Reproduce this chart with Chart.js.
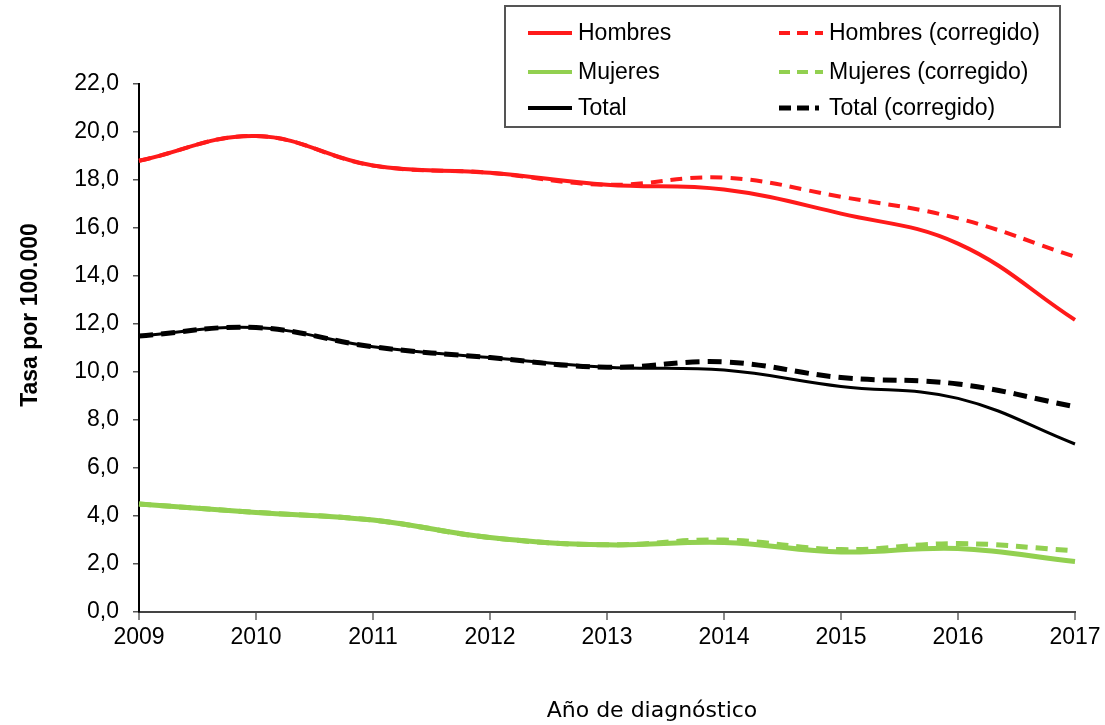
<!DOCTYPE html>
<html>
<head>
<meta charset="utf-8">
<script src="https://cdn.jsdelivr.net/npm/chart.js@4"></script>
<style>
  html, body { margin: 0; padding: 0; background: #fff; }
  #wrap { width: 1105px; height: 725px; position: relative; }
</style>
</head>
<body>
<div id="wrap"><canvas id="tasaChart" width="1105" height="725"></canvas></div>
<script>
// datos
const years = ['2009', '2010', '2011', '2012', '2013', '2014', '2015', '2016', '2017'];
const hombres = [18.8, 19.83, 18.6, 18.3, 17.8, 17.6, 16.6, 15.35, 12.17];
const hombresCorr = [18.8, 19.83, 18.6, 18.3, 17.8, 18.1, 17.3, 16.4, 14.8];
const mujeres = [4.5, 4.15, 3.83, 3.1, 2.8, 2.9, 2.5, 2.65, 2.1];
const mujeresCorr = [4.5, 4.15, 3.83, 3.1, 2.8, 3.0, 2.6, 2.85, 2.55];
const total = [11.5, 11.85, 11.05, 10.6, 10.2, 10.08, 9.4, 8.9, 7.0];
const totalCorr = [11.5, 11.85, 11.05, 10.6, 10.2, 10.42, 9.77, 9.5, 8.55];
const yTicks = [0, 2, 4, 6, 8, 10, 12, 14, 16, 18, 20, 22];

const ROJO = '#ff1a1a';
const VERDE = '#92d050';
const FUENTE = '"Liberation Sans", Arial, sans-serif';

// leyenda en dos columnas con recuadro
const legendBox = {
  id: 'legendBox',
  afterDraw(chart) {
    const c = chart.ctx;
    c.save();
    c.strokeStyle = '#555';
    c.lineWidth = 2;
    c.strokeRect(505, 6, 555, 121);
    const items = [
      { i: 0, x: 528, y: 33 }, { i: 1, x: 779, y: 33 },
      { i: 2, x: 528, y: 72 }, { i: 3, x: 779, y: 72 },
      { i: 4, x: 528, y: 108 }, { i: 5, x: 779, y: 108 }
    ];
    c.font = '23px ' + FUENTE;
    c.textBaseline = 'middle';
    items.forEach(it => {
      const ds = chart.data.datasets[it.i];
      c.beginPath();
      c.strokeStyle = ds.borderColor;
      c.lineWidth = it.i === 5 ? 5 : 4;
      c.setLineDash(ds.legendDash || []);
      c.moveTo(it.x, it.y);
      c.lineTo(it.x + 44, it.y);
      c.stroke();
      c.setLineDash([]);
      c.fillStyle = '#000';
      c.fillText(ds.label, it.x + 50, it.y + 1);
    });
    c.restore();
  }
};

// títulos de ejes
const axisTitles = {
  id: 'axisTitles',
  afterDraw(chart) {
    const c = chart.ctx;
    c.save();
    c.fillStyle = '#000';
    c.textAlign = 'center';
    c.textBaseline = 'middle';
    c.font = '22px "DejaVu Sans", Verdana, sans-serif';
    c.fillText('Año de diagnóstico', 652, 711);
    c.translate(31, 315);
    c.rotate(-Math.PI / 2);
    c.font = 'bold 23px ' + FUENTE;
    c.fillText('Tasa por 100.000', 0, 0);
    c.restore();
  }
};

const ctx = document.getElementById('tasaChart').getContext('2d');
new Chart(ctx, {
  type: 'line',
  data: {
    labels: years,
    datasets: [
      { label: 'Hombres', data: hombres, borderColor: ROJO, borderWidth: 4, order: 1 },
      { label: 'Hombres (corregido)', data: hombresCorr, borderColor: ROJO, borderWidth: 4,
        borderDash: [12, 8], legendDash: [11, 7], order: 2 },
      { label: 'Mujeres', data: mujeres, borderColor: VERDE, borderWidth: 5, order: 1 },
      { label: 'Mujeres (corregido)', data: mujeresCorr, borderColor: VERDE, borderWidth: 5,
        borderDash: [12, 8], legendDash: [11, 7], order: 2 },
      { label: 'Total', data: total, borderColor: '#000', borderWidth: 3, order: 1 },
      { label: 'Total (corregido)', data: totalCorr, borderColor: '#000', borderWidth: 5,
        borderDash: [14, 8], legendDash: [12, 6, 12, 6, 4, 6], order: 2 }
    ]
  },
  options: {
    responsive: false,
    animation: false,
    layout: { padding: { top: 84, right: 30, left: 0, bottom: 0 } },
    elements: {
      point: { radius: 0, hoverRadius: 0 },
      line: { tension: 0.4, fill: false, borderCapStyle: 'butt' }
    },
    plugins: {
      legend: { display: false },
      tooltip: { enabled: false }
    },
    scales: {
      x: {
        offset: false,
        afterFit(scale) { scale.height = 113; },
        grid: { drawOnChartArea: false, drawTicks: true, tickLength: 8, color: '#888', lineWidth: 2 },
        border: { color: '#444', width: 2 },
        ticks: {
          color: '#000', padding: 4, maxRotation: 0, autoSkip: false,
          font: { family: FUENTE, size: 23 }
        }
      },
      y: {
        min: 0,
        max: 22,
        afterFit(scale) { scale.width = 139; },
        afterBuildTicks(scale) { scale.ticks = yTicks.map(v => ({ value: v })); },
        grid: { drawOnChartArea: false, drawTicks: true, tickLength: 6, color: '#555', lineWidth: 1.5 },
        border: { color: '#000', width: 2 },
        ticks: {
          color: '#000', padding: 14,
          font: { family: FUENTE, size: 23 },
          callback: v => v.toFixed(1).replace('.', ',')
        }
      }
    }
  },
  plugins: [legendBox, axisTitles]
});
</script>
</body>
</html>
